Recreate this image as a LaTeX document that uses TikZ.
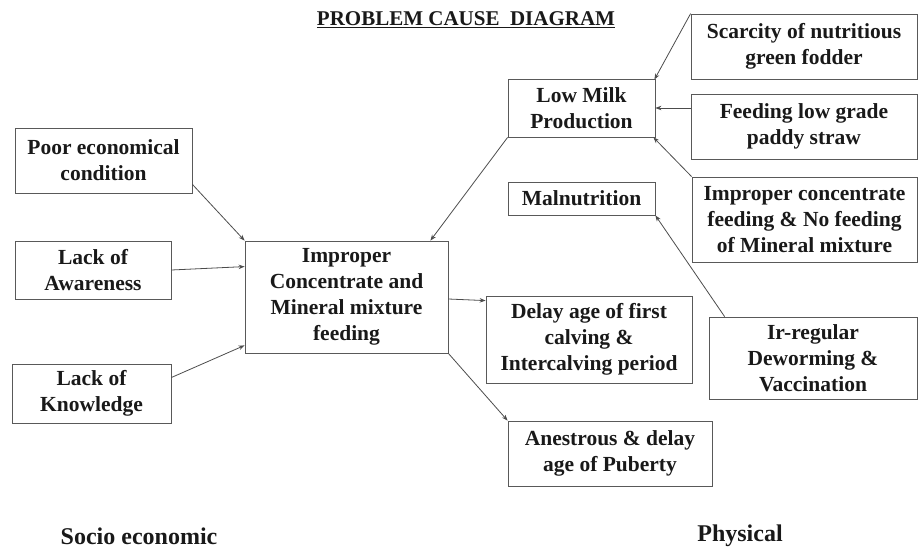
\documentclass[tikz,border=0pt]{standalone}
\usepackage{fontspec}
\setmainfont{Liberation Serif}
\usetikzlibrary{arrows.meta,calc}
\begin{document}
\begin{tikzpicture}[x=1pt,y=-1pt,
  box/.style={draw=black!65, line width=0.8pt, inner sep=0pt, align=center,
    text=black!90, font=\bfseries\fontsize{21.5}{26}\selectfont},
  link/.style={draw=black!70, line width=0.8pt, -{Stealth[length=6pt,width=4.5pt]}},
  heading/.style={text=black!90, font=\bfseries\fontsize{21}{25}\selectfont},
  group/.style={text=black!90, font=\bfseries\fontsize{24}{28}\selectfont}]
\useasboundingbox (0,0) rectangle (920,551);

% title
\node[heading] (title) at (466,20) {\underline{PROBLEM CAUSE\ \ DIAGRAM}};

% socio-economic causes
\node[box, minimum width=177pt, minimum height=65pt] (poor) at (103.5,160.5) {Poor economical\\condition};
\node[box, minimum width=156pt, minimum height=58pt] (aware) at (93,270) {Lack of\\Awareness};
\node[box, minimum width=159pt, minimum height=59pt] (know) at (91.5,393.5) {Lack of\\Knowledge};

% central problem
\node[box, minimum width=203pt, minimum height=112pt] (imp) at (346.5,297) {Improper\\Concentrate and\\Mineral mixture\\feeding};

% physical side
\node[box, minimum width=147pt, minimum height=58pt] (milk) at (581.5,108) {Low Milk\\Production};
\node[box, minimum width=226pt, minimum height=65pt] (scar) at (804,46.5) {Scarcity of nutritious\\green fodder};
\node[box, minimum width=226pt, minimum height=65pt] (feed) at (804,126.5) {Feeding low grade\\paddy straw};
\node[box, minimum width=225pt, minimum height=85pt] (impc) at (804.5,219.5) {Improper concentrate\\feeding \& No feeding\\of Mineral mixture};
\node[box, minimum width=147pt, minimum height=33pt] (maln) at (581.5,198.5) {Malnutrition};
\node[box, minimum width=206pt, minimum height=87pt] (delay) at (589,339.5) {Delay age of first\\calving \&\\Intercalving period};
\node[box, minimum width=208pt, minimum height=82pt] (irr) at (813,358) {Ir-regular\\Deworming \&\\Vaccination};
\node[box, minimum width=204pt, minimum height=65pt] (anes) at (610,453.5) {Anestrous \& delay\\age of Puberty};

% group labels
\node[group] (socio) at (139,536) {Socio economic};
\node[group] (phys) at (740,536) {Physical};

% connectors
\draw[link] ([yshift=9pt]poor.south east) -- (imp.north west);
\draw[link] (aware.east) -- ([yshift=-26pt]imp.north west);
\draw[link] ([yshift=16pt]know.east) -- ([yshift=8pt]imp.south west);
\draw[link] (milk.south west) -- ([xshift=-18pt]imp.north east);
\draw[link] ([yshift=-2pt]imp.east) -- ([yshift=-5pt]delay.north west);
\draw[link] (imp.south east) -- (anes.north west);
\draw[link] (scar.north west) -- ([shift={(-1pt,-1pt)}]milk.north east);
\draw[link] (feed.west |- milk.east) -- (milk.east);
\draw[link] (impc.north west) -- ([xshift=-2pt]milk.south east);
\draw[link] ([xshift=16pt]irr.north west) -- (maln.south east);
\end{tikzpicture}
\end{document}
